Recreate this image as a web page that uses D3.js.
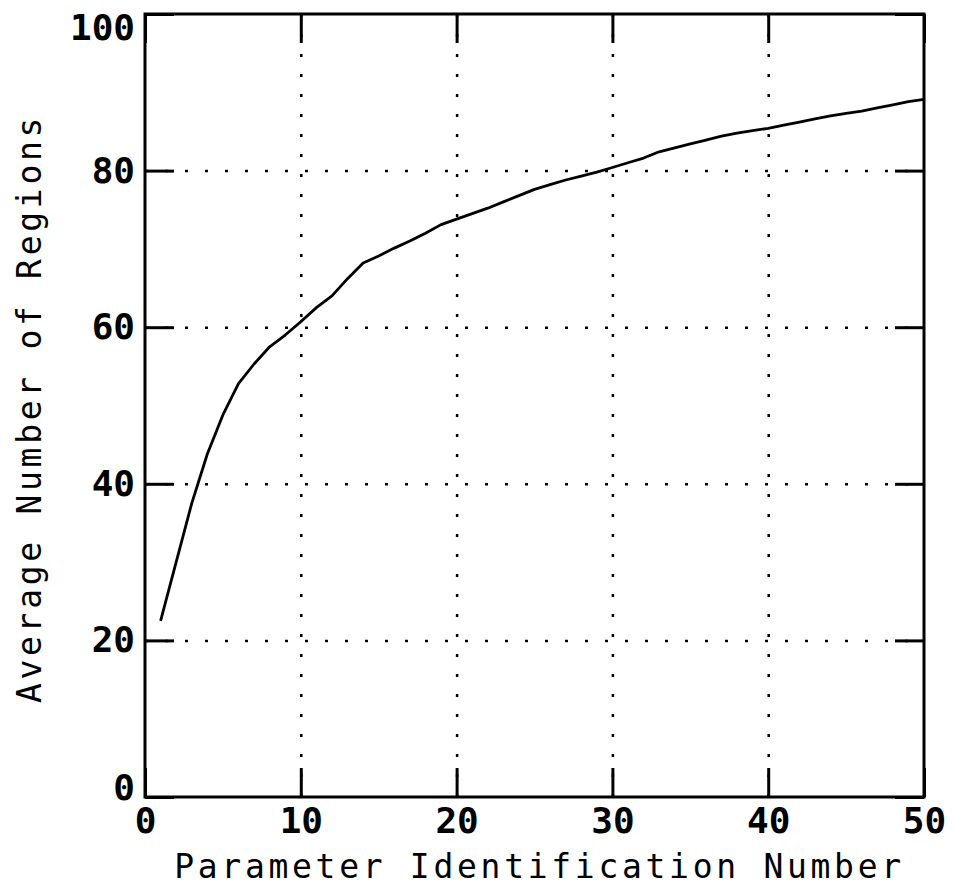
<!DOCTYPE html>
<html>
<head>
<meta charset="utf-8">
<script src="https://cdn.jsdelivr.net/npm/d3@7"></script>
<style>
  body { margin: 0; background: #fff; }
  svg { display: block; }
</style>
</head>
<body>
<div id="chart"></div>
<script>
// data: parameter id vs average number of regions
var paramIds = [1,2,3,4,5,6,7,8,9,10,
  11,12,13,14,15,16,17,18,19,20,
  21,22,23,24,25,26,27,28,29,30,
  31,32,33,34,35,36,37,38,39,40,
  41,42,43,44,45,46,47,48,49,50];
var avgRegions = [22.5,30.0,37.5,43.8,48.8,52.8,55.3,57.5,59.0,60.7,
  62.5,64.0,66.2,68.2,69.1,70.1,71.0,72.0,73.1,73.8,
  74.5,75.2,76.0,76.8,77.6,78.2,78.8,79.3,79.8,80.4,
  81.0,81.6,82.4,82.9,83.4,83.9,84.4,84.8,85.1,85.4,
  85.8,86.2,86.6,87.0,87.3,87.6,88.0,88.4,88.8,89.1];
var xTicks = [0,10,20,30,40,50],
    yTicks = [0,20,40,60,80,100],
    xGrid = [10,20,30,40],
    yGrid = [20,40,60,80];
var xTitle = "Parameter Identification Number",
    yTitle = "Average Number of Regions";

var W = 955, H = 892,
    m = {t:14, r:31, b:95, l:145},
    w = W - m.l - m.r,
    h = H - m.t - m.b;

var svg = d3.select("#chart").append("svg")
  .attr("width", W)
  .attr("height", H);

var g = svg.append("g")
  .attr("transform", "translate(" + m.l + "," + m.t + ")");

var x = d3.scaleLinear().domain([0,50]).range([0,w]),
    y = d3.scaleLinear().domain([0,100]).range([h,0]);

var tickFont = "'DejaVu Sans Mono', monospace";

// dotted grid
g.append("g")
  .attr("class","grid")
  .attr("transform","translate(0," + h + ")")
  .call(d3.axisBottom(x).tickValues(xGrid).tickSize(-h).tickFormat(""))
  .call(function(s){ s.select(".domain").remove(); });
g.append("g")
  .attr("class","grid")
  .call(d3.axisLeft(y).tickValues(yGrid).tickSize(-w).tickFormat(""))
  .call(function(s){ s.select(".domain").remove(); });
g.selectAll(".grid line")
  .attr("stroke","#000")
  .attr("stroke-width",2.5)
  .attr("stroke-dasharray","3,17");

// the curve
var pts = paramIds.map(function(d,i){ return {x:d, y:avgRegions[i]}; });
var line = d3.line()
  .x(function(d){ return x(d.x); })
  .y(function(d){ return y(d.y); });
g.append("path")
  .datum(pts)
  .attr("fill","none")
  .attr("stroke","#000")
  .attr("stroke-width",2.8)
  .attr("stroke-linejoin","round")
  .attr("d", line);

// inward ticks on all four sides
var tLen = 29;
var axL = g.append("g")
  .call(d3.axisLeft(y).tickValues(yTicks).tickSizeInner(-tLen).tickSizeOuter(0).tickPadding(10));
var axR = g.append("g")
  .attr("transform","translate(" + w + ",0)")
  .call(d3.axisRight(y).tickValues(yTicks).tickSizeInner(-tLen).tickSizeOuter(0).tickFormat(""));
var axB = g.append("g")
  .attr("transform","translate(0," + h + ")")
  .call(d3.axisBottom(x).tickValues(xTicks).tickSizeInner(-tLen).tickSizeOuter(0).tickPadding(10));
var axT = g.append("g")
  .call(d3.axisTop(x).tickValues(xTicks).tickSizeInner(-tLen).tickSizeOuter(0).tickFormat(""));

[axL, axR, axB, axT].forEach(function(a){
  a.select(".domain").remove();
  a.selectAll("line").attr("stroke","#000").attr("stroke-width",3);
  a.selectAll("text")
    .attr("fill","#000")
    .style("font-family", tickFont)
    .style("font-weight","bold")
    .style("font-size","36px");
});

// keep the end labels of the y axis inside the frame
axL.selectAll("text")
  .attr("y", function(d){
    var c = Math.max(13.5, Math.min(h - 9, y(d)));
    return c - y(d);
  });

// frame
g.append("rect")
  .attr("width", w)
  .attr("height", h)
  .attr("fill","none")
  .attr("stroke","#000")
  .attr("stroke-width",3);

// axis titles
svg.append("text")
  .attr("x", m.l + w/2 + 5)
  .attr("y", 878)
  .attr("text-anchor","middle")
  .style("font-family", tickFont)
  .style("font-size","33px")
  .style("letter-spacing","3.7px")
  .text(xTitle);

svg.append("text")
  .attr("transform","translate(41," + (m.t + h/2 + 3) + ") rotate(-90)")
  .attr("text-anchor","middle")
  .style("font-family", tickFont)
  .style("font-size","33px")
  .style("letter-spacing","3.7px")
  .text(yTitle);
</script>
</body>
</html>
